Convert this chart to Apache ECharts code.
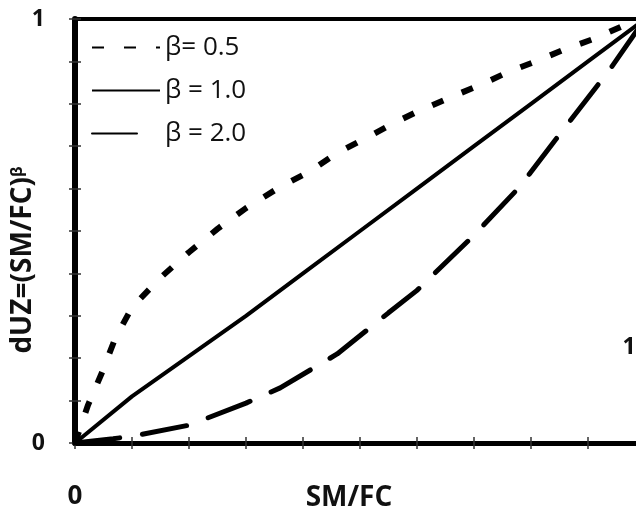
<!DOCTYPE html>
<html>
<head>
<meta charset="utf-8">
<script src="https://cdn.jsdelivr.net/npm/echarts@6/dist/echarts.min.js"></script>
<style>
  html, body { margin: 0; padding: 0; background: #fff; }
  #main { width: 636px; height: 519px; }
</style>
</head>
<body>
<div id="main"></div>
<script>
// values
const legendNames = ['β= 0.5', 'β = 1.0', 'β = 2.0'];

const xHalf = [0, 0.023, 0.047, 0.07, 0.1, 0.15, 0.2, 0.25, 0.3, 0.36, 0.41, 0.46, 0.51, 0.56, 0.6, 0.66, 0.71, 0.76, 0.81, 0.86, 0.91, 0.96, 1.0];
const yHalf = [0, 0.09, 0.165, 0.245, 0.32, 0.39, 0.45, 0.505, 0.554, 0.604, 0.639, 0.684, 0.719, 0.755, 0.781, 0.816, 0.844, 0.875, 0.901, 0.929, 0.953, 0.983, 1.0];

const xOne = [0, 0.1, 0.2, 0.3, 0.4, 0.5, 0.6, 0.7, 0.8, 0.9, 1.0];
const yOne = [0, 0.11, 0.205, 0.3, 0.4, 0.5, 0.6, 0.7, 0.8, 0.9, 1.0];

const xTwo = [0, 0.067, 0.1, 0.2, 0.3, 0.36, 0.46, 0.55, 0.6, 0.7, 0.78, 0.84, 0.94, 1.0];
const yTwo = [0, 0.01, 0.016, 0.042, 0.094, 0.13, 0.21, 0.307, 0.36, 0.49, 0.604, 0.71, 0.884, 1.0];

const pairs = (xs, ys) => xs.map((x, i) => [x, ys[i]]);

const fontFam = '"Open Sans", "DejaVu Sans", sans-serif';
const ink = '#111';

const chart = echarts.init(document.getElementById('main'), null, { renderer: 'canvas' });

const tickOut = { show: true, length: 6, lineStyle: { color: '#333', width: 1.5 } };
const tickIn = { show: true, inside: true, length: 6, lineStyle: { color: '#333', width: 1.5 } };

chart.setOption({
  animation: false,
  backgroundColor: '#fff',
  grid: {
    left: 75, right: -9, top: 19, bottom: 76,
    containLabel: false, outerBoundsMode: 'none',
    show: true, borderColor: '#000', borderWidth: 4
  },
  legend: {
    left: 86, top: 29, orient: 'vertical',
    itemWidth: 68, itemHeight: 20, itemGap: 16,
    data: legendNames,
    itemStyle: { opacity: 0 },
    textStyle: { fontFamily: fontFam, fontSize: 26, color: ink, lineHeight: 27 }
  },
  xAxis: [{
    type: 'value', min: 0, max: 1, interval: 0.1,
    name: 'SM/FC', nameLocation: 'middle', nameGap: 41, nameMoveOverlap: false,
    nameTextStyle: { fontFamily: fontFam, fontSize: 28, fontWeight: 'bold', color: ink, padding: [0, 22, 0, 0] },
    axisLine: { show: true, lineStyle: { color: '#000', width: 5 } },
    axisTick: tickOut,
    axisLabel: {
      margin: 41, fontFamily: fontFam, fontSize: 26, fontWeight: 'bold', color: ink,
      formatter: v => (v === 0 ? '0' : '')
    },
    splitLine: { show: false }
  }, {
    type: 'value', min: 0, max: 1, interval: 0.1, position: 'bottom',
    axisLine: { show: false }, axisTick: tickIn, axisLabel: { show: false }, splitLine: { show: false }
  }],
  yAxis: [{
    type: 'value', min: 0, max: 1, interval: 0.1,
    name: 'dUZ=(SM/FC){s|β}', nameLocation: 'middle', nameGap: 38, nameRotate: 90, nameMoveOverlap: false,
    nameTextStyle: {
      fontFamily: fontFam, fontSize: 28, fontWeight: 'bold', color: ink, padding: [0, 58, 0, 0],
      rich: { s: { fontFamily: fontFam, fontSize: 16, fontWeight: 'bold', color: ink, verticalAlign: 'top', padding: [0, 0, 12, 0] } }
    },
    axisLine: { show: true, lineStyle: { color: '#000', width: 6 } },
    axisTick: tickOut,
    axisLabel: {
      margin: 30, fontFamily: fontFam, fontSize: 23, fontWeight: 'bold', color: ink,
      formatter: v => (v === 0 ? '0' : v === 1 ? '1' : '')
    },
    splitLine: { show: false }
  }, {
    type: 'value', min: 0, max: 1, interval: 0.1, position: 'left',
    axisLine: { show: false }, axisTick: tickIn, axisLabel: { show: false }, splitLine: { show: false }
  }],
  graphic: [{
    type: 'text', x: 629, y: 347,
    style: { text: '1', fontFamily: fontFam, fontSize: 23, fontWeight: 'bold', fill: ink, align: 'center', verticalAlign: 'middle' }
  }],
  series: [{
    name: legendNames[0], type: 'line', data: pairs(xHalf, yHalf),
    symbol: 'none', smooth: false,
    lineStyle: { color: '#000', width: 6, type: [12, 20], cap: 'butt' }
  }, {
    name: legendNames[1], type: 'line', data: pairs(xOne, yOne),
    symbol: 'none', smooth: false,
    lineStyle: { color: '#000', width: 4, type: 'solid' }
  }, {
    name: legendNames[2], type: 'line', data: pairs(xTwo, yTwo),
    symbol: 'none', smooth: false,
    lineStyle: { color: '#000', width: 5, type: [45, 23], cap: 'round' }
  }]
});
</script>
</body>
</html>
